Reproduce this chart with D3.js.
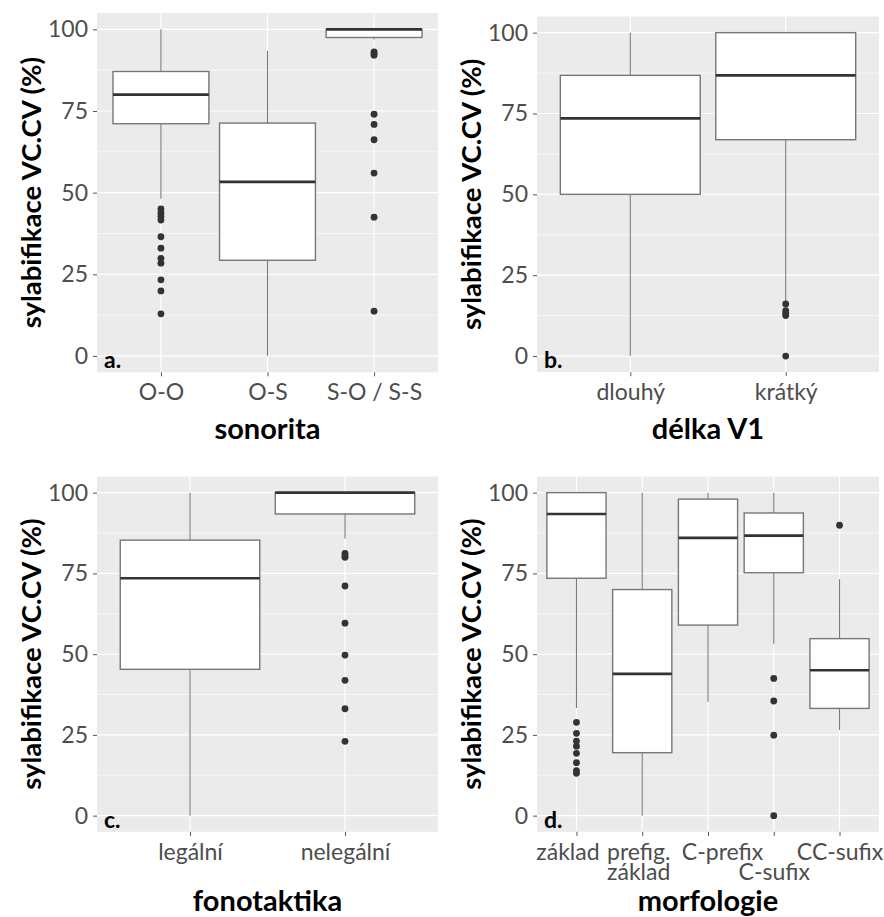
<!DOCTYPE html>
<html>
<head>
<meta charset="utf-8">
<script src="https://cdn.jsdelivr.net/npm/d3@7"></script>
<style>
  html, body { margin: 0; padding: 0; background: #ffffff; }
  svg { display: block; font-family: Lato, "Open Sans", sans-serif; }
</style>
</head>
<body>
<svg id="chart" width="884" height="917"></svg>
<script>
// ---- data: box statistics [lower whisker, Q1, median, Q3, upper whisker] and outliers ----
const yTicks = [0, 25, 50, 75, 100];
const yMinor = [12.5, 37.5, 62.5, 87.5];
const yTitle = "sylabifikace VC.CV (%)";

const sonoritaCats = ["O-O", "O-S", "S-O / S-S"];
const sonoritaStats = [
  [48.1, 71.1, 80.0, 87.1, 100],
  [0, 29.3, 53.3, 71.3, 93.4],
  [96.9, 97.5, 100, 100, 100]
];
const sonoritaOutliers = [
  [45.0, 43.7, 42.7, 41.6, 36.5, 33.0, 29.9, 28.4, 23.3, 19.9, 12.9],
  [],
  [93.1, 92.6, 92.1, 74.0, 70.9, 66.2, 56.0, 42.5, 13.7]
];

const delkaCats = ["dlouhý", "krátký"];
const delkaStats = [
  [0, 50.0, 73.5, 86.8, 100],
  [16.8, 66.9, 86.8, 100, 100]
];
const delkaOutliers = [
  [],
  [16.1, 14.0, 13.2, 12.5, 0]
];

const fonoCats = ["legální", "nelegální"];
const fonoStats = [
  [0, 45.3, 73.5, 85.3, 100],
  [85.8, 93.4, 100, 100, 100]
];
const fonoOutliers = [
  [],
  [81.2, 80.5, 80.0, 71.1, 59.6, 49.7, 41.9, 33.1, 23.0]
];

const morfCats = ["základ", "prefig.\nzáklad", "C-prefix", "\nC-sufix", "CC-sufix"];
const morfStats = [
  [33.3, 73.5, 93.4, 100, 100],
  [0, 19.5, 43.9, 70.0, 100],
  [35.3, 59.0, 86.0, 98.0, 100],
  [53.2, 75.2, 86.7, 93.7, 100],
  [26.5, 33.2, 45.0, 54.8, 73.2]
];
const morfOutliers = [
  [28.9, 25.5, 23.1, 21.5, 19.3, 16.4, 13.9, 13.1],
  [],
  [],
  [42.5, 35.5, 24.9, 0],
  [89.9]
];

// ---- layout of the four panels ----
const panels = [
  { cats: sonoritaCats, stats: sonoritaStats, outliers: sonoritaOutliers, letter: "a.", xTitle: "sonorita",
    left: 97, right: 438, top: 13, bottom: 372.3, titleY: 439 },
  { cats: delkaCats, stats: delkaStats, outliers: delkaOutliers, letter: "b.", xTitle: "délka V1",
    left: 537, right: 879, top: 16.5, bottom: 372.2, titleY: 439 },
  { cats: fonoCats, stats: fonoStats, outliers: fonoOutliers, letter: "c.", xTitle: "fonotaktika",
    left: 97, right: 438, top: 476.5, bottom: 831.8, titleY: 911 },
  { cats: morfCats, stats: morfStats, outliers: morfOutliers, letter: "d.", xTitle: "morfologie",
    left: 537, right: 879, top: 476.5, bottom: 831.8, titleY: 911,
    labelShift: [-9, -4, 14, 0, 0] }
];

const svg = d3.select("#chart");
const tickColor = "#4D4D4D";

panels.forEach(p => {
  const g = svg.append("g");
  const y = d3.scaleLinear().domain([-5, 105]).range([p.bottom, p.top]);
  const x = d3.scalePoint().domain(p.cats).range([p.left, p.right]).padding(0.6);
  const boxW = x.step() * 0.9;

  // panel background
  g.append("rect")
    .attr("x", p.left).attr("y", p.top)
    .attr("width", p.right - p.left).attr("height", p.bottom - p.top)
    .attr("fill", "#EBEBEB");

  // grid lines
  g.selectAll(".minor").data(yMinor).enter().append("line")
    .attr("x1", p.left).attr("x2", p.right)
    .attr("y1", d => y(d)).attr("y2", d => y(d))
    .attr("stroke", "#fff").attr("stroke-width", 0.6);
  g.selectAll(".major").data(yTicks).enter().append("line")
    .attr("x1", p.left).attr("x2", p.right)
    .attr("y1", d => y(d)).attr("y2", d => y(d))
    .attr("stroke", "#fff").attr("stroke-width", 1.2);
  g.selectAll(".vmajor").data(p.cats).enter().append("line")
    .attr("x1", d => x(d)).attr("x2", d => x(d))
    .attr("y1", p.top).attr("y2", p.bottom)
    .attr("stroke", "#fff").attr("stroke-width", 1.2);

  // y axis
  const ya = g.append("g").attr("transform", `translate(${p.left},0)`)
    .call(d3.axisLeft(y).tickValues(yTicks).tickSize(4).tickPadding(5));
  ya.select(".domain").remove();
  ya.selectAll(".tick line").attr("stroke", "#555").attr("stroke-width", 1);
  ya.selectAll(".tick text").attr("fill", tickColor)
    .style("font-size", "23px").style("font-family", "Lato");

  // x axis (labels may span two lines)
  const xa = g.append("g").attr("transform", `translate(0,${p.bottom})`)
    .call(d3.axisBottom(x).tickSize(4).tickPadding(6));
  xa.select(".domain").remove();
  xa.selectAll(".tick line").attr("stroke", "#555").attr("stroke-width", 1);
  xa.selectAll(".tick text").each(function(d, i) {
    const t = d3.select(this);
    const shift = p.labelShift ? p.labelShift[i] : 0;
    t.text(null).attr("dy", null).attr("y", 0)
      .attr("fill", tickColor)
      .style("font-size", "23px").style("font-family", "Lato");
    d.split("\n").forEach((line, k) => {
      t.append("tspan").attr("x", shift).attr("y", 28 + k * 20.5).text(line);
    });
  });

  // boxes
  p.cats.forEach((c, i) => {
    const [lo, q1, med, q3, hi] = p.stats[i];
    const cx = x(c);
    const bg = g.append("g");
    bg.append("line").attr("x1", cx).attr("x2", cx).attr("y1", y(hi)).attr("y2", y(q3))
      .attr("stroke", "#7a7a7a").attr("stroke-width", 1.1);
    bg.append("line").attr("x1", cx).attr("x2", cx).attr("y1", y(q1)).attr("y2", y(lo))
      .attr("stroke", "#7a7a7a").attr("stroke-width", 1.1);
    bg.append("rect")
      .attr("x", cx - boxW / 2).attr("width", boxW)
      .attr("y", y(q3)).attr("height", y(q1) - y(q3))
      .attr("fill", "#fff").attr("stroke", "#777").attr("stroke-width", 1.4);
    bg.append("line").attr("x1", cx - boxW / 2).attr("x2", cx + boxW / 2)
      .attr("y1", y(med)).attr("y2", y(med))
      .attr("stroke", "#333").attr("stroke-width", 2.6);
    bg.selectAll("circle").data(p.outliers[i]).enter().append("circle")
      .attr("cx", cx).attr("cy", d => y(d)).attr("r", 3.4)
      .attr("fill", "#333");
  });

  // panel letter
  g.append("text")
    .attr("x", p.left + 7).attr("y", y(0) + 3)
    .attr("dominant-baseline", "central")
    .style("font-size", "23px").style("font-weight", "bold").attr("fill", "#000")
    .text(p.letter);

  // axis titles
  g.append("text")
    .attr("transform", `translate(${p.left - 67},${(p.top + p.bottom) / 2}) rotate(-90)`)
    .attr("text-anchor", "middle").attr("dominant-baseline", "central")
    .style("font-size", "27.5px").style("font-weight", "bold").attr("fill", "#000")
    .text(yTitle);
  g.append("text")
    .attr("x", (p.left + p.right) / 2).attr("y", p.titleY)
    .attr("text-anchor", "middle")
    .style("font-size", "29px").style("font-weight", "bold").attr("fill", "#000")
    .text(p.xTitle);
});
</script>
</body>
</html>
